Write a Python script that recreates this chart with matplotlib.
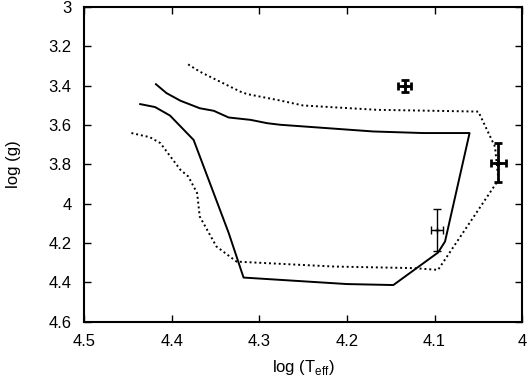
import matplotlib
matplotlib.use("Agg")
import matplotlib.pyplot as plt

plt.rcParams["font.family"] = ["Liberation Sans", "DejaVu Sans"]
plt.rcParams["mathtext.fontset"] = "custom"
plt.rcParams["mathtext.rm"] = "Liberation Sans"

# solid track (logTeff, logg)
solid_x = [4.436, 4.419, 4.402, 4.375, 4.335, 4.318, 4.200, 4.147, 4.096, 4.088,
           4.060, 4.113, 4.170, 4.276, 4.291, 4.310, 4.335, 4.352, 4.368, 4.390,
           4.406, 4.418]
solid_y = [3.494, 3.509, 3.552, 3.676, 4.148, 4.375, 4.408, 4.413, 4.248, 4.192,
           3.641, 3.641, 3.633, 3.599, 3.591, 3.574, 3.562, 3.528, 3.515, 3.477,
           3.438, 3.393]

# dotted track
dot_x = [4.446, 4.425, 4.413, 4.390, 4.381, 4.371, 4.368, 4.349, 4.326, 4.215,
         4.124, 4.096, 4.027, 4.031, 4.050, 4.166, 4.250, 4.276, 4.314, 4.322,
         4.349, 4.368, 4.382]
dot_y = [3.641, 3.662, 3.692, 3.828, 3.862, 3.946, 4.065, 4.217, 4.294, 4.319,
         4.327, 4.336, 3.879, 3.710, 3.532, 3.523, 3.501, 3.476, 3.443, 3.430,
         3.371, 3.329, 3.290]

# observed stars
star_x = [4.134, 4.027, 4.097]
star_y = [3.400, 3.791, 4.133]
star_xerr = [0.0076, 0.0086, 0.007]
star_yerr = [0.03, 0.10, 0.105]
star_lw = [2.0, 2.0, 1.0]

fig = plt.figure(figsize=(5.29, 3.80), dpi=100)
ax = fig.add_axes([0.159, 0.153, 0.828, 0.829])

ax.plot(solid_x, solid_y, color="black", lw=1.4)
ax.plot(dot_x, dot_y, color="black", lw=1.4, ls=(0, (1, 1.5)))

for x, y, xe, ye, lw in zip(star_x, star_y, star_xerr, star_yerr, star_lw):
    ax.errorbar(x, y, xerr=xe, yerr=ye, fmt="none", ecolor="black",
                elinewidth=lw, capsize=3, capthick=lw)
    ax.plot(x, y, marker="+", color="black", ms=5, mew=lw)

ax.set_xlim(4.5, 4.0)
ax.set_ylim(4.6, 3.0)
ax.set_xticks([4.5, 4.4, 4.3, 4.2, 4.1, 4.0])
ax.set_xticklabels(["4.5", "4.4", "4.3", "4.2", "4.1", "4"])
ax.set_yticks([3.0, 3.2, 3.4, 3.6, 3.8, 4.0, 4.2, 4.4, 4.6])
ax.set_yticklabels(["3", "3.2", "3.4", "3.6", "3.8", "4", "4.2", "4.4", "4.6"])
ax.tick_params(direction="in", top=True, right=True, length=5, width=1,
               labelsize=12, pad=9)
for s in ax.spines.values():
    s.set_linewidth(1.5)

ax.set_xlabel(r"log (T$_{\rm eff}$)", fontsize=12, labelpad=6)
ax.set_ylabel("log (g)", fontsize=12, labelpad=20)

fig.savefig("out.png", dpi=100)
